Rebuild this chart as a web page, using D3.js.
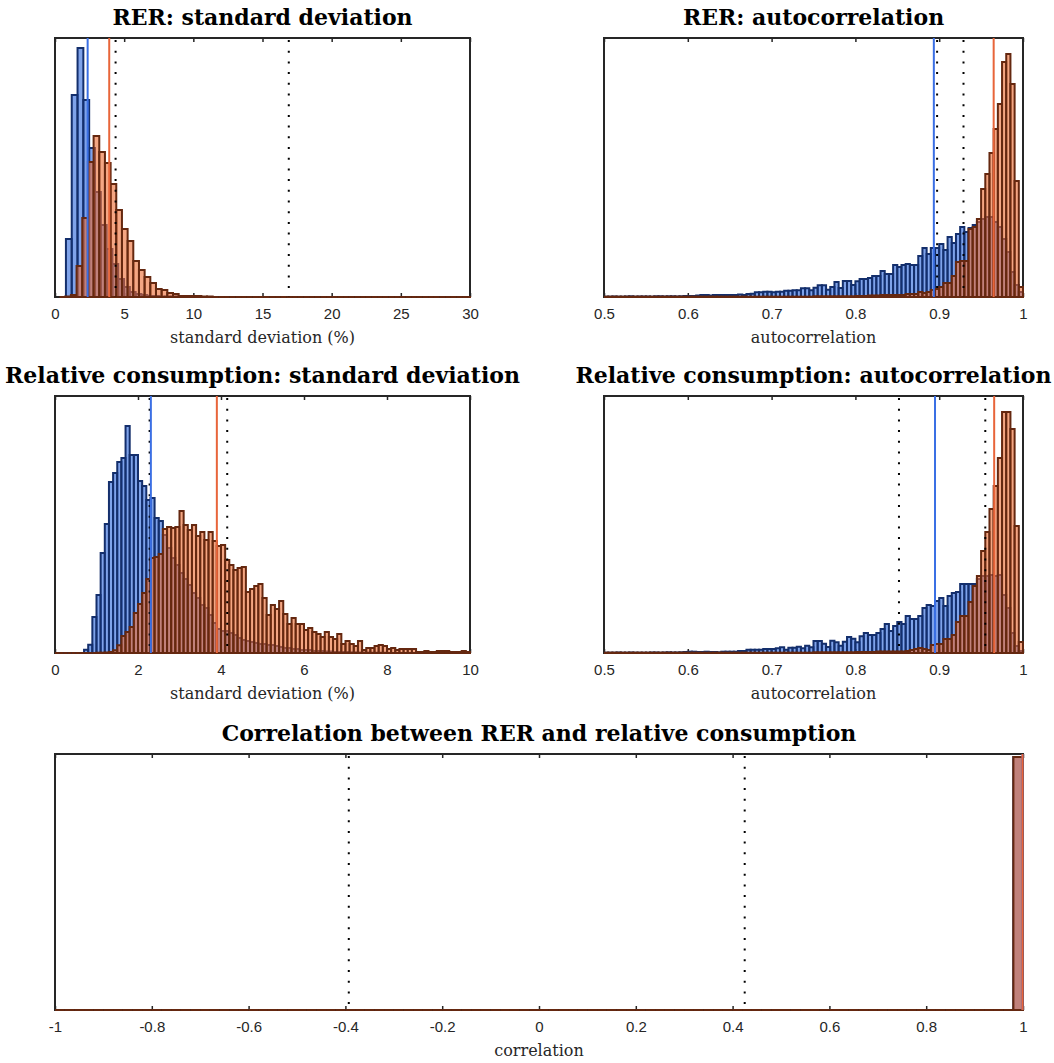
<!DOCTYPE html>
<html><head><meta charset="utf-8">
<script src="https://cdn.jsdelivr.net/npm/d3@7"></script>
<style>body{margin:0;background:#fff}svg{display:block}</style>
</head><body>
<svg id="c" width="1054" height="1063"></svg>
<script>
// ---------------- DATA ----------------
const titles = ["RER: standard deviation","RER: autocorrelation",
  "Relative consumption: standard deviation","Relative consumption: autocorrelation",
  "Correlation between RER and relative consumption"];
const xLabels = ["standard deviation (%)","autocorrelation","standard deviation (%)","autocorrelation","correlation"];

const p1Ticks = [0,5,10,15,20,25,30];
const p1TickLabels = ["0","5","10","15","20","25","30"];
const p2Ticks = [0.5,0.6,0.7,0.8,0.9,1];
const p2TickLabels = ["0.5","0.6","0.7","0.8","0.9","1"];
const p3Ticks = [0,2,4,6,8,10];
const p3TickLabels = ["0","2","4","6","8","10"];
const p5Ticks = [-1,-0.8,-0.6,-0.4,-0.2,0,0.2,0.4,0.6,0.8,1];
const p5TickLabels = ["-1","-0.8","-0.6","-0.4","-0.2","0","0.2","0.4","0.6","0.8","1"];

const xDomains = [[0,30],[0.5,1],[0,10],[0.5,1],[-1,1]];
const yMax = [259,259,257,257,256];

// histogram bins: start, width, heights (blue = model 1, orange = model 2)
const p1BlueStart = 0.79, p1BlueWidth = 0.42;
const p1Blue = [58,202,249,197,149,105,72,48,33,18,10,5,3,2,1,1,0.5,0.5,0.5,0.3];
const p1OrangeStart = 0.33, p1OrangeWidth = 0.41;
const p1Orange = [0,0.5,2,31,79,135,161,145,134,113,87,68,56,36,27,20,14,8,7,4,3,1,1,1,1,0.5,0.5,
  0,0,0,0,0,0,0,0,0,0,0,0,0,0,0,0,0,0,0,0,0,0,0,0,0,0,0,0,0,0,0,0,0,0,0,0,0,0,0,0,0,0,0,0,0,0];

const p2BlueStart = 0.5, p2BlueWidth = 0.005;
const p2Blue = [0.3,0.3,0.5,0.3,0.3,0.5,0.7,0.3,0.5,0.5,
  0.5,0.3,0.7,0.7,0.5,0.7,0.7,0.5,0.7,1,
  1,1,1.5,2,2,1.5,2,2,2,2,
  2,2,2.5,2,3,3.3,4.7,4.7,5.3,5.3,
  4.7,5.3,5.3,6.3,6.3,6.7,6.7,8.7,8.7,6.7,
  9.3,11.7,11.7,7.3,10,15,9,16,16,12,
  15.7,18,18,19,21,21,26,23,23,32,
  30,32,33,32,32,41,49,43,49,49,
  53,47,60,54,63,70,65,69,72,75,
  78,80,80,75,70,58,45,25,12,5];
const p2OrangeStart = 0.5, p2OrangeWidth = 0.005;
const p2Orange = [0.3,0.3,0.3,0.3,0.3,0.3,0.3,0.3,0.3,0.3,
  0.3,0.3,0.3,0.3,0.3,0.3,0.3,0.3,0.3,0.3,
  0.3,0.3,0.3,0.3,0.3,0.3,0.3,0.3,0.3,0.3,
  0.3,0.3,0.3,0.3,0.3,0.3,0.3,0.3,0.3,0.3,
  0.3,0.3,0.3,0.3,0.3,0.3,0.3,0.3,0.3,0.3,
  0.7,0.7,0.7,0.7,0.7,0.7,0.7,0.7,0.7,0.7,
  1,1,1,1.5,1.5,1.5,2,2,2,2,
  2,2,3,3,3,5,4,5,7,8,
  10,14,14,21,35,36,36,68,70,78,
  108,123,144,168,193,235,243,213,116,10];

const p3BlueStart = 0, p3BlueWidth = 0.1;
const p3Blue = [0,0,0,0,0,0,0,3.3,8.3,36,
  58,100,129,171,180,191,195,227,198,198,
  172,167,153,155,135,132,118,105,95,88,
  80,74,68,60,55,48,45,38,30,24,
  22,22,20,18,15,13,12,11,10,9,
  9,8,8,7,6,5,5,4,4,3,
  3,3,2,2,2,1.5,1.5,1,1,1,
  1,0.7,0.7,0.5,0.5,0.5,0.3,0.3,0.3,0.3];
const p3OrangeStart = 0, p3OrangeWidth = 0.1;
const p3Orange = [0,0,0,0,0,0,0,0,0,0,
  0.3,0.3,0.5,1,2.7,7.7,17,21,26,40,
  49,60,74,95,96,99,124,126,125,126,
  142,128,123,128,117,121,113,121,112,107,
  108,93,88,83,85,86,61,64,67,69,
  55,38,48,44,52,39,29,35,29,29,
  23,25,21,19,16,21,16,14,19,9,
  12,9,7,12,3,5,5,7,8,7,
  4,5,3,4,4,4,4,1,1,2,
  1,1,2,2,2,1,1,1,2,1];

const p4BlueStart = 0.5, p4BlueWidth = 0.005;
const p4Blue = [0.3,0.3,0.3,0.5,0.3,0.3,0.5,0.3,0.3,0.3,
  0.3,0.5,0.5,0.3,0.5,0.7,0.5,0.5,0.7,1,
  1.3,1.3,1,1,1.3,1,1,0.7,1.3,1.3,
  1.3,1.3,2,2,3.3,3.3,3.3,3.3,4,4,
  4,4.7,5.7,3.3,5.3,5.3,6.3,4.7,7.3,5.7,
  12,12,9.3,6,12.3,10.7,7.3,11.3,16,14.3,
  10.7,16.7,20,18,18,20,24,29,22,27,
  31,29,37,34,34,37,45,48,47,52,
  55,47,57,60,61,69,69,69,69,74,
  77,77,78,77,78,58,45,20,7,2];
const p4OrangeStart = 0.5, p4OrangeWidth = 0.005;
const p4Orange = [0.3,0.3,0.3,0.3,0.3,0.3,0.3,0.3,0.3,0.3,
  0.3,0.3,0.3,0.3,0.3,0.3,0.3,0.3,0.3,0.3,
  0.3,0.3,0.3,0.3,0.3,0.3,0.3,0.3,0.3,0.3,
  0.3,0.3,0.3,0.3,0.3,0.3,0.3,0.3,0.3,0.3,
  0.3,0.3,0.3,0.3,0.3,0.3,0.3,0.3,0.3,0.3,
  0.7,0.7,0.7,0.7,0.7,0.7,0.7,0.7,0.7,0.7,
  1,1,1,1,1,1.5,1.5,1.5,1.5,1.5,
  1.5,1.5,2,3,4,5,4,3,8,9,
  9,14,14,18,31,37,37,51,67,77,
  102,121,144,167,195,241,241,224,127,11];

const p5BlueStart = 0.98, p5BlueWidth = 0.02;
const p5Blue = [253];
const p5OrangeStart = -1, p5OrangeWidth = 0.02;
const p5Orange = [0,0,0,0,0,0,0,0,0,0,0,0,0,0,0,0,0,0,0,0,0,0,0,0,0,0,0,0,0,0,0,0,0,0,0,0,0,0,0,0,
  0,0,0,0,0,0,0,0,0,0,0,0,0,0,0,0,0,0,0,0,0,0,0,0,0,0,0,0,0,0,0,0,0,0,0,0,0,0,0,0,
  0,0,0,0,0,0,0,0,0,0,0,0,0,0,0,0,0,0,0,253];

// vertical reference lines: model means (blue, orange) and data bounds (dotted)
const blueMeans = [2.36, 0.8936, 2.31, 0.895, 0.999];
const orangeMeans = [3.92, 0.965, 3.90, 0.9656, 0.999];
const dataLines = [[4.38,16.9],[0.8975,0.929],[2.28,4.15],[0.852,0.955],[-0.393,0.425]];

// ---------------- LAYOUT / STYLE ----------------
const boxes = [[55,38,470,297],[604,38,1023,297],[55,396,470,653],[604,396,1023,653],[55,754,1023,1010]];
const ticksAll = [p1Ticks,p2Ticks,p3Ticks,p2Ticks,p5Ticks];
const tickLabelsAll = [p1TickLabels,p2TickLabels,p3TickLabels,p2TickLabels,p5TickLabels];
const hists = [
  [[p1BlueStart,p1BlueWidth,p1Blue],[p1OrangeStart,p1OrangeWidth,p1Orange]],
  [[p2BlueStart,p2BlueWidth,p2Blue],[p2OrangeStart,p2OrangeWidth,p2Orange]],
  [[p3BlueStart,p3BlueWidth,p3Blue],[p3OrangeStart,p3OrangeWidth,p3Orange]],
  [[p4BlueStart,p4BlueWidth,p4Blue],[p4OrangeStart,p4OrangeWidth,p4Orange]],
  [[p5BlueStart,p5BlueWidth,p5Blue],[p5OrangeStart,p5OrangeWidth,p5Orange]]
];
const faceColors = ["#2a66dc","#ec6a30"];
const edgeColors = ["#142f6c","#652810"];
const lineColors = ["#3a6fe4","#e8653a"];
const axisColor = "#262626";

const svg = d3.select("#c");
const defs = svg.append("defs");

boxes.forEach((b,i)=>{
  const [x0,y0,x1,y1] = b;
  const x = d3.scaleLinear().domain(xDomains[i]).range([x0,x1]);
  const y = d3.scaleLinear().domain([0,yMax[i]]).range([y1,y0]);
  const g = svg.append("g");

  defs.append("clipPath").attr("id","clip"+i).append("rect")
    .attr("x",x0).attr("y",y0-2).attr("width",x1-x0+1).attr("height",y1-y0+4);

  // bottom axis with labels, inward ticks
  const ax = g.append("g").attr("transform",`translate(0,${y1})`)
    .call(d3.axisBottom(x).tickValues(ticksAll[i]).tickFormat((d,j)=>tickLabelsAll[i][j])
      .tickSizeInner(-4).tickSizeOuter(0).tickPadding(11));
  ax.select(".domain").remove();
  ax.selectAll("line").attr("stroke",axisColor).attr("stroke-width",1.5);
  ax.selectAll("text").attr("fill",axisColor).style("font-family","'Liberation Sans',Arial,sans-serif").style("font-size","15px");
  const axT = g.append("g").attr("transform",`translate(0,${y0})`)
    .call(d3.axisTop(x).tickValues(ticksAll[i]).tickFormat("").tickSizeInner(-4).tickSizeOuter(0));
  axT.select(".domain").remove();
  axT.selectAll("line").attr("stroke",axisColor).attr("stroke-width",1.5);

  // box
  g.append("rect").attr("x",x0).attr("y",y0).attr("width",x1-x0).attr("height",y1-y0)
    .attr("fill","none").attr("stroke",axisColor).attr("stroke-width",2);

  // histograms
  const hg = g.append("g").attr("clip-path",`url(#clip${i})`);
  hists[i].forEach((h,s)=>{
    const [start,w,vals] = h;
    hg.append("g").selectAll("path").data(vals).join("path")
      .attr("d",(v,k)=>{
        const a = x(start+k*w), c = x(start+(k+1)*w), t = y(v), z = y(0);
        return `M${a},${z}V${t}H${c}V${z}Z`;
      })
      .attr("fill",faceColors[s]).attr("fill-opacity",0.6)
      .attr("stroke",edgeColors[s]).attr("stroke-width",2);
  });

  // reference lines
  const lg = g.append("g");
  lg.selectAll("line.dat").data(dataLines[i]).join("line").attr("class","dat")
    .attr("x1",d=>x(d)).attr("x2",d=>x(d)).attr("y1",y0+2).attr("y2",y1)
    .attr("stroke","#000").attr("stroke-width",2).attr("stroke-dasharray","2,8.7");
  [[blueMeans[i],lineColors[0]],[orangeMeans[i],lineColors[1]]].forEach(([v,c])=>{
    lg.append("line").attr("x1",x(v)).attr("x2",x(v)).attr("y1",y0).attr("y2",y1)
      .attr("stroke",c).attr("stroke-width",2);
  });

  // titles
  g.append("text").attr("x",(x0+x1)/2).attr("y",y0-13).attr("text-anchor","middle")
    .style("font-family","'DejaVu Serif',serif").style("font-weight","bold").style("font-size","22px")
    .attr("fill","#000").text(titles[i]);
  g.append("text").attr("x",(x0+x1)/2).attr("y",y1+46).attr("text-anchor","middle")
    .style("font-family","'DejaVu Serif',serif").style("font-size","16px")
    .attr("fill","#262626").text(xLabels[i]);
});
</script>
</body></html>
